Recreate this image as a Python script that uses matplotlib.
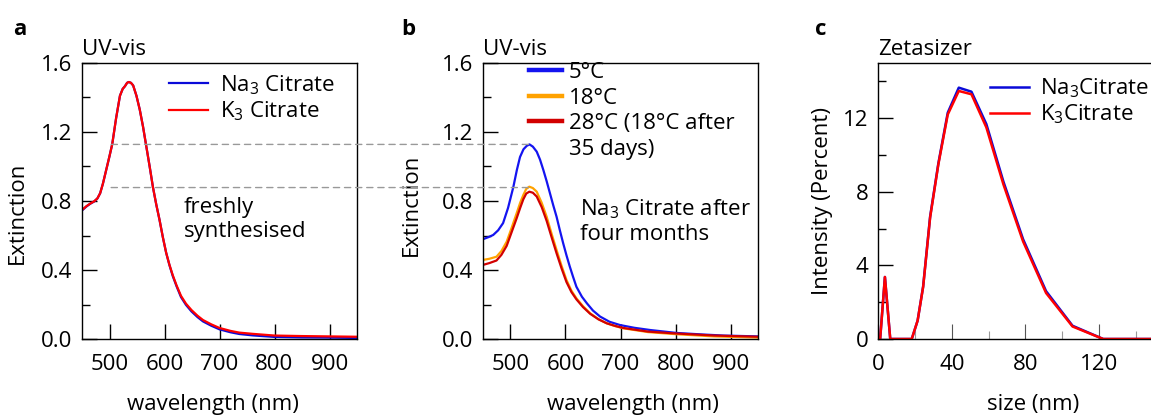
import numpy as np
import matplotlib
matplotlib.use('Agg')
import matplotlib.pyplot as plt
from matplotlib.patches import ConnectionPatch
from matplotlib.lines import Line2D
from matplotlib.ticker import MultipleLocator, FormatStrFormatter, FuncFormatter

plt.rcParams['font.family'] = ['Open Sans', 'DejaVu Sans']
plt.rcParams['mathtext.fontset'] = 'custom'
plt.rcParams['mathtext.rm'] = 'Open Sans'
plt.rcParams['mathtext.it'] = 'Open Sans:italic'
plt.rcParams['mathtext.bf'] = 'Open Sans:bold'

FS = 16

# panel a: freshly synthesised
wl_a = [450, 458, 465, 472, 478, 483, 488, 494, 500, 505, 512, 519, 524, 528, 532,
        535, 539, 543, 549, 555, 561, 567, 573, 579, 585, 591, 597, 603, 609, 615,
        622, 630, 639, 649, 660, 670, 685, 700, 720, 736, 760, 800, 850, 900, 950]
ext_a_k = [0.748, 0.77, 0.785, 0.798, 0.815, 0.845, 0.90, 0.98, 1.06, 1.13, 1.28,
           1.41, 1.45, 1.465, 1.485, 1.49, 1.485, 1.47, 1.41, 1.33, 1.23, 1.115,
           1.0, 0.88, 0.78, 0.69, 0.59, 0.50, 0.43, 0.37, 0.31, 0.25, 0.205,
           0.168, 0.135, 0.11, 0.085, 0.064, 0.047, 0.037, 0.03, 0.02, 0.017,
           0.015, 0.013]
ext_a_na = [0.745, 0.768, 0.784, 0.797, 0.815, 0.845, 0.90, 0.98, 1.06, 1.13, 1.28,
            1.41, 1.45, 1.465, 1.485, 1.49, 1.485, 1.47, 1.41, 1.33, 1.23, 1.115,
            1.0, 0.88, 0.78, 0.69, 0.59, 0.50, 0.428, 0.365, 0.305, 0.243, 0.198,
            0.16, 0.127, 0.102, 0.077, 0.056, 0.039, 0.029, 0.021, 0.012, 0.009,
            0.008, 0.006]

# panel b: Na3 citrate after four months
wl_b_5 = [450, 460, 469, 478, 487, 496, 505.5, 512, 517.7, 524, 530, 535, 541, 548,
          554, 560, 566, 572, 578, 584, 590, 596, 602, 608, 614, 620, 630, 639,
          650, 663, 680, 699, 725, 754, 802, 850, 887, 950]
ext_b_5 = [0.578, 0.59, 0.603, 0.63, 0.672, 0.76, 0.88, 0.98, 1.055, 1.10, 1.12,
           1.128, 1.115, 1.086, 1.04, 0.98, 0.915, 0.845, 0.775, 0.709, 0.63,
           0.555, 0.485, 0.42, 0.36, 0.303, 0.245, 0.207, 0.165, 0.13, 0.10,
           0.081, 0.065, 0.052, 0.035, 0.026, 0.02, 0.015]
wl_b = [450, 462, 475, 484, 493.5, 502, 511.6, 518, 523.7, 529, 534.6, 541, 548,
        557, 566, 575, 584, 593, 602, 611, 620, 632, 645, 660, 675, 690, 705,
        750, 800, 870, 950]
ext_b_18 = [0.458, 0.465, 0.477, 0.51, 0.564, 0.64, 0.729, 0.79, 0.835, 0.87,
            0.883, 0.875, 0.854, 0.79, 0.709, 0.61, 0.516, 0.425, 0.342, 0.28,
            0.236, 0.19, 0.149, 0.115, 0.091, 0.075, 0.062, 0.04, 0.028, 0.015,
            0.008]
ext_b_28 = [0.429, 0.44, 0.455, 0.488, 0.54, 0.615, 0.70, 0.76, 0.81, 0.843,
            0.854, 0.848, 0.826, 0.765, 0.685, 0.59, 0.497, 0.41, 0.33, 0.272,
            0.23, 0.185, 0.146, 0.114, 0.091, 0.076, 0.064, 0.043, 0.032, 0.02,
            0.013]

# panel c: zetasizer size distribution
size_c = [0, 1.0, 3.6, 6.5, 15.7, 18.2, 21.4, 24.4, 28.2, 32.7, 37.8, 43.8, 50.7,
          58.8, 68.1, 78.8, 91.3, 105.7, 122.4, 141.8, 164.2]
int_c_k = [0, 0, 3.37, 0, 0, 0, 1.0, 2.83, 6.6, 9.5, 12.2, 13.48, 13.3, 11.5,
           8.4, 5.3, 2.5, 0.68, 0, 0, 0]
int_c_na = [0, 0, 3.37, 0, 0, 0, 1.0, 2.85, 6.65, 9.55, 12.3, 13.66, 13.44, 11.68,
            8.55, 5.42, 2.6, 0.72, 0, 0, 0]

W, H = 1151, 418
fig = plt.figure(figsize=(W / 100, H / 100), dpi=100)


def px_axes(left, right, top=63, bottom=339):
    return fig.add_axes([left / W, 1 - bottom / H, (right - left) / W, (bottom - top) / H])


def style_axes(ax):
    for s in ax.spines.values():
        s.set_linewidth(1.0)
    ax.tick_params(which='both', direction='in', labelsize=FS, top=False, right=False)
    ax.tick_params(which='major', length=11, width=1.0)
    ax.tick_params(which='minor', length=6, width=1.0)
    ax.tick_params(axis='x', pad=11)
    ax.tick_params(axis='y', pad=7)


ax_a = px_axes(82, 357)
ax_b = px_axes(482.7, 758.3)
ax_c = px_axes(878.3, 878.3 + 160 * 1.8375)

# --- a ---
ax_a.plot(wl_a, ext_a_na, color='#0a0ad8', lw=1.6, label='Na$_3$ Citrate')
ax_a.plot(wl_a, ext_a_k, color='#ff0000', lw=1.6, label='K$_3$ Citrate')
# --- b ---
ax_b.plot(wl_b_5, ext_b_5, color='#1414f0', lw=1.6)
ax_b.plot(wl_b, ext_b_18, color='#ffa200', lw=1.6)
ax_b.plot(wl_b, ext_b_28, color='#d20000', lw=1.6)
# --- c ---
ax_c.plot(size_c, int_c_na, color='#0a0ad8', lw=1.8, label='Na$_3$Citrate')
ax_c.plot(size_c, int_c_k, color='#ff0000', lw=1.8, label='K$_3$Citrate')

for ax in (ax_a, ax_b):
    style_axes(ax)
    ax.set_xlim(450, 950)
    ax.set_ylim(0, 1.6)
    ax.xaxis.set_major_locator(MultipleLocator(100))
    ax.yaxis.set_major_locator(MultipleLocator(0.4))
    ax.yaxis.set_minor_locator(MultipleLocator(0.2))
    ax.yaxis.set_major_formatter(FormatStrFormatter('%.1f'))
    ax.set_xlabel('wavelength (nm)', fontsize=FS)
    ax.set_ylabel('Extinction', fontsize=FS)
    ax.text(0, 1 + 8 / 276, 'UV-vis', transform=ax.transAxes, fontsize=FS,
            ha='left', va='baseline')

style_axes(ax_c)
ax_c.set_xlim(0, 160)
ax_c.set_ylim(0, 15)
ax_c.xaxis.set_major_locator(MultipleLocator(40))
ax_c.xaxis.set_minor_locator(MultipleLocator(20))
ax_c.xaxis.set_major_formatter(FuncFormatter(lambda v, _: f'{v:.0f}' if v <= 120 else ''))
ax_c.yaxis.set_major_locator(MultipleLocator(4))
ax_c.yaxis.set_minor_locator(MultipleLocator(2))
ax_c.tick_params(axis='x', which='major', color='#555555', width=0.8)
ax_c.tick_params(axis='x', which='minor', color='#999999', width=0.8)
ax_c.set_xlabel('size (nm)', fontsize=FS)
ax_c.set_ylabel('Intensity (Percent)', fontsize=FS)
ax_c.text(0, 1 + 8 / 276, 'Zetasizer', transform=ax_c.transAxes, fontsize=FS,
          ha='left', va='baseline')

ax_a.xaxis.set_label_coords(0.476, -0.20)
ax_b.xaxis.set_label_coords(0.545, -0.20)
ax_c.xaxis.set_label_coords(0.526, -0.20)
ax_a.yaxis.set_label_coords(-0.196, 0.457)
ax_b.yaxis.set_label_coords(-0.221, 0.486)
ax_c.yaxis.set_label_coords(-0.154, 0.5)

# legends
ax_a.legend(loc='upper left', bbox_to_anchor=(0.316, 0.964), frameon=False,
            fontsize=FS, handlelength=1.76, handletextpad=0.54, labelspacing=0.15,
            borderpad=0, borderaxespad=0)
ax_c.legend(loc='upper left', bbox_to_anchor=(0.38, 0.95), frameon=False,
            fontsize=FS, handlelength=1.76, handletextpad=0.5, labelspacing=0.1,
            borderpad=0, borderaxespad=0)
b_handles = [Line2D([], [], color='#1414f0', lw=3.2),
             Line2D([], [], color='#ffa200', lw=3.2),
             Line2D([], [], color='#d20000', lw=3.2),
             Line2D([], [], color='none')]
b_labels = ['5°C', '18°C', '28°C (18°C after', '35 days)']
ax_b.legend(b_handles, b_labels, loc='upper left', bbox_to_anchor=(0.168, 1.004),
            frameon=False, fontsize=FS, handlelength=1.5, handletextpad=0.3,
            labelspacing=0.21, borderpad=0, borderaxespad=0)

# annotations
ax_a.text(0.371, 0.514, 'freshly\nsynthesised', transform=ax_a.transAxes,
          fontsize=FS, ha='left', va='top')
ax_b.text(0.353, 0.514, 'Na$_3$ Citrate after\nfour months', transform=ax_b.transAxes,
          fontsize=FS, ha='left', va='top')

# dashed guide lines linking a and b
for level in (1.128, 0.878):
    con = ConnectionPatch(xyA=(503, level), coordsA=ax_a.transData,
                          xyB=(533, level), coordsB=ax_b.transData,
                          color='#999999', lw=1.0, linestyle=(0, (4.5, 3.5)))
    fig.add_artist(con)

# panel letters
for x, letter in ((13, 'a'), (401, 'b'), (815, 'c')):
    fig.text(x / W, 1 - 35 / H, letter, fontsize=FS, fontweight='bold',
             ha='left', va='baseline')

fig.savefig('out.png', dpi=100)
